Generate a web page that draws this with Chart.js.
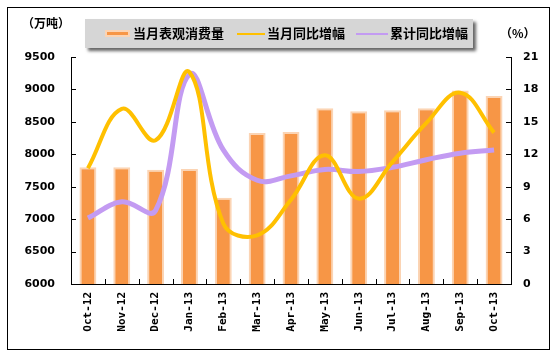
<!DOCTYPE html>
<html>
<head>
<meta charset="utf-8">
<script src="https://cdn.jsdelivr.net/npm/chart.js@4.4.1/dist/chart.umd.min.js"></script>
<style>
  html, body { margin: 0; padding: 0; background: #fff; }
  #wrap { position: relative; width: 556px; height: 353px; }
  #frame { position: absolute; left: 7px; top: 7px; width: 541px; height: 341px; border: 1px solid #000; box-sizing: content-box; pointer-events: none; }
  canvas { position: absolute; left: 0; top: 0; }
  .unit { position: absolute; font-family: "Noto Sans CJK SC", sans-serif; font-weight: bold; font-size: 12px; color: #000; }
  #legend { position: absolute; left: 85px; top: 19px; width: 388px; height: 29px; background: #D6D6D6; box-shadow: 3px 3px 3px #666; }
  .ltxt { position: absolute; top: 5px; font-family: "Noto Sans CJK SC", sans-serif; font-weight: bold; font-size: 13px; line-height: 18px; color: #000; white-space: nowrap; }
  .lbar { position: absolute; left: 20px; top: 11px; width: 21px; height: 3px; background: #F79646; border: 2px solid #FBD4B4; }
  .lline { position: absolute; top: 14px; height: 2px; }
</style>
</head>
<body>
<div id="wrap">
  <canvas id="c" width="556" height="353"></canvas>
  <div id="frame"></div>
  <div class="unit" style="left:22px; top:14px;">（万吨）</div>
  <div class="unit" style="left:500px; top:24px;">（%）</div>
  <div id="legend">
    <div class="lbar"></div>
    <div class="ltxt" style="left:48px;">当月表观消费量</div>
    <div class="lline" style="left:152px; width:28px; background:#FFC000;"></div>
    <div class="ltxt" style="left:182px;">当月同比增幅</div>
    <div class="lline" style="left:271px; width:32px; background:#C39BF2;"></div>
    <div class="ltxt" style="left:305px;">累计同比增幅</div>
  </div>
</div>
<script>
const categories = ["Oct-12","Nov-12","Dec-12","Jan-13","Feb-13","Mar-13","Apr-13","May-13","Jun-13","Jul-13","Aug-13","Sep-13","Oct-13"];
const consumption = [7800, 7800, 7760, 7775, 7330, 8330, 8345, 8710, 8665, 8680, 8710, 8985, 8900];
const monthlyYoY = [10.7, 16.2, 13.3, 19.6, 5.6, 4.5, 7.8, 11.9, 7.9, 11.3, 14.9, 17.7, 14.0];
const cumulativeYoY = [6.1, 7.6, 6.8, 19.4, 12.4, 9.6, 10.0, 10.6, 10.4, 10.8, 11.5, 12.1, 12.4];
const leftTicks = [6000, 6500, 7000, 7500, 8000, 8500, 9000, 9500];
const rightTicks = [0, 3, 6, 9, 12, 15, 18, 21];

const innerTicks = {
  id: 'innerTicks',
  afterDraw(chart) {
    const ctx = chart.ctx;
    const {x, y, y1} = chart.scales;
    const area = chart.chartArea;
    ctx.save();
    ctx.strokeStyle = '#000';
    ctx.lineWidth = 1;
    ctx.beginPath();
    leftTicks.forEach(v => {
      const p = Math.round(y.getPixelForValue(v)) + 0.5;
      ctx.moveTo(area.left, p); ctx.lineTo(area.left + 5, p);
    });
    rightTicks.forEach(v => {
      const p = Math.round(y1.getPixelForValue(v)) + 0.5;
      ctx.moveTo(area.right, p); ctx.lineTo(area.right - 5, p);
    });
    const half = (x.getPixelForValue(1) - x.getPixelForValue(0)) / 2;
    for (let i = 0; i <= categories.length; i++) {
      const px = Math.round(x.getPixelForValue(i) - half) + 0.5;
      ctx.moveTo(px, area.bottom); ctx.lineTo(px, area.bottom - 5);
    }
    ctx.stroke();
    ctx.restore();
  }
};

new Chart(document.getElementById('c'), {
  data: {
    labels: categories,
    datasets: [
      {
        type: 'line', label: '当月同比增幅', data: monthlyYoY, yAxisID: 'y1',
        borderColor: '#FFC000', borderWidth: 4, pointRadius: 0, tension: 0.4, order: 1
      },
      {
        type: 'line', label: '累计同比增幅', data: cumulativeYoY, yAxisID: 'y1',
        borderColor: '#C39BF2', borderWidth: 5, pointRadius: 0, tension: 0.4, order: 2
      },
      {
        type: 'bar', label: '当月表观消费量', data: consumption, yAxisID: 'y',
        backgroundColor: '#F79646', borderColor: '#FBD4B4', borderWidth: 2,
        barPercentage: 0.5, categoryPercentage: 1.0, order: 3
      }
    ]
  },
  options: {
    responsive: false,
    animation: false,
    layout: { padding: { top: 57, left: 0, right: 0, bottom: 0 } },
    plugins: { legend: { display: false }, tooltip: { enabled: false } },
    scales: {
      x: {
        grid: { display: false, drawTicks: false },
        border: { display: true, color: '#000', width: 1 },
        ticks: {
          minRotation: 90, maxRotation: 90, padding: 8, color: '#000',
          font: { family: 'DejaVu Sans Mono', weight: 'bold', size: 11 }
        },
        afterFit(s) { s.height = 69; }
      },
      y: {
        position: 'left', min: 6000, max: 9500,
        grid: { display: false, drawTicks: false },
        border: { display: true, color: '#000', width: 1 },
        afterBuildTicks(s) { s.ticks = leftTicks.map(v => ({ value: v })); },
        ticks: { padding: 16, color: '#000', font: { family: 'DejaVu Sans', weight: 'bold', size: 11 }, callback: v => String(v) },
        afterFit(s) { s.width = 71; }
      },
      y1: {
        position: 'right', min: 0, max: 21,
        grid: { display: false, drawTicks: false },
        border: { display: true, color: '#000', width: 1 },
        afterBuildTicks(s) { s.ticks = rightTicks.map(v => ({ value: v })); },
        ticks: { padding: 12, color: '#000', font: { family: 'DejaVu Sans', weight: 'bold', size: 11 }, callback: v => String(v) },
        afterFit(s) { s.width = 45; }
      }
    }
  },
  plugins: [innerTicks]
});
</script>
</body>
</html>
